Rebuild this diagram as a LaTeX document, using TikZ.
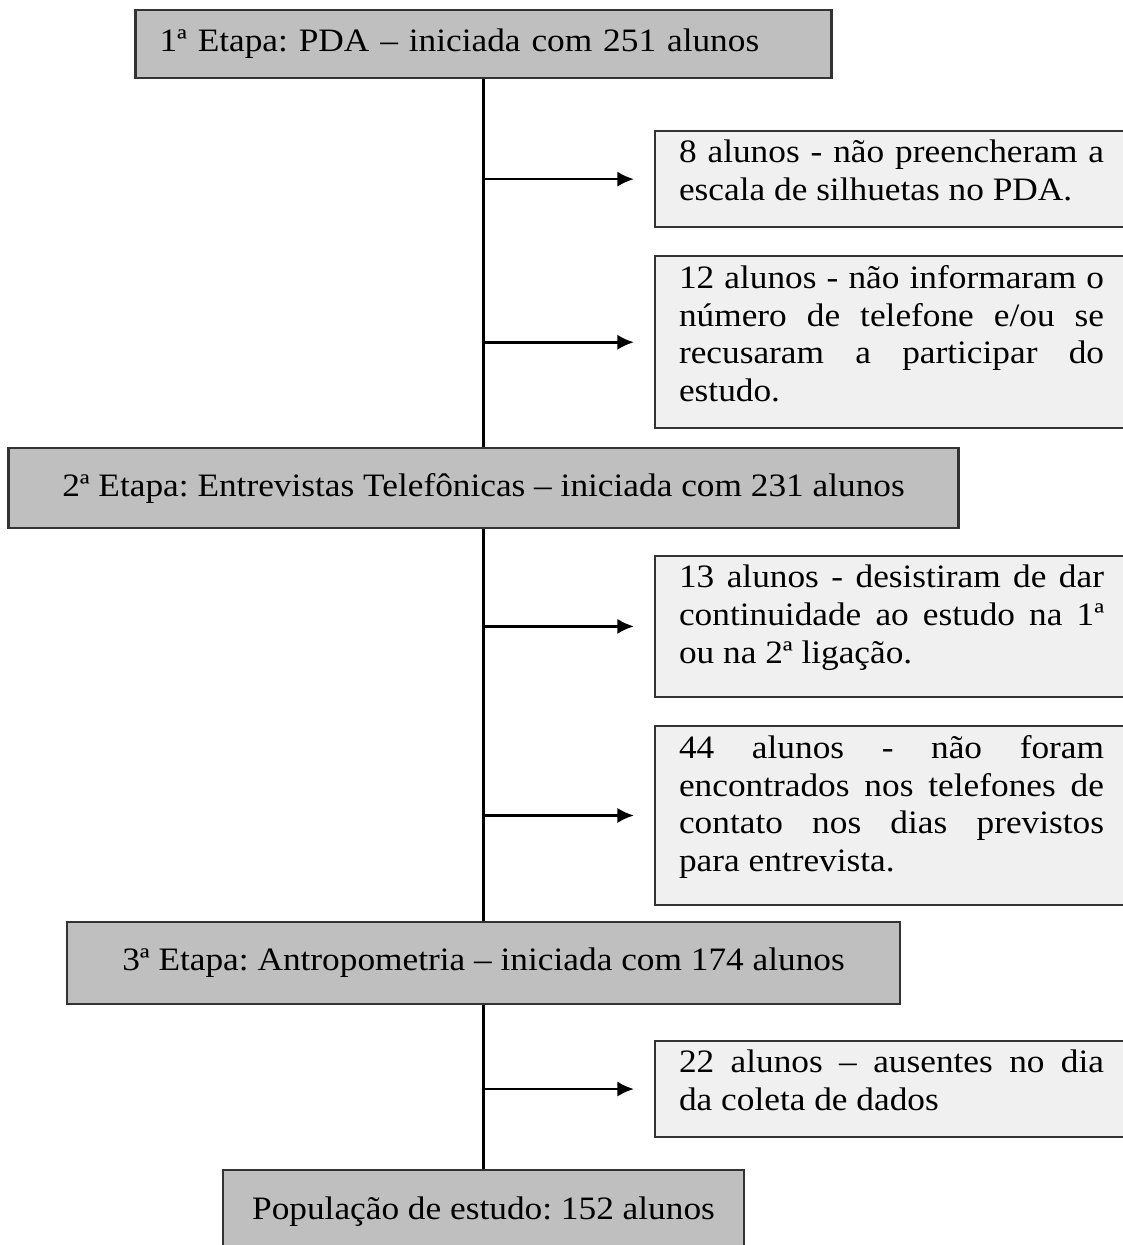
\documentclass[tikz,border=0pt]{standalone}
\usepackage{fontspec}
\setmainfont{Liberation Serif}[FakeStretch=1.08]
\usetikzlibrary{arrows.meta}
\frenchspacing

\tikzset{
    etapa/.style={draw=black!80, line width=0.6pt, fill=gray!50, inner sep=0pt},
    perda/.style={draw=black!80, line width=0.6pt, fill=black!6, anchor=north west,
        text width=42.5mm, inner xsep=2.4mm, inner ysep=0.9mm, align=justify,
        execute at end node={\par\kern1.7mm}},
    tronco/.style={line width=0.9pt},
    seta/.style={->, line width=0.75pt, shorten >=2mm}
}

\begin{document}
\begin{tikzpicture}[x=0.1mm, y=-0.1mm, >={Latex[length=4.7pt,width=4.3pt]},
    font=\fontsize{9.3}{10.8}\selectfont]
    \useasboundingbox (0,0) rectangle (1123,1245);

    % Etapas
    \node[etapa, text width=64.8mm, minimum width=69.6mm, minimum height=6.8mm, align=left]
        (s1) at (483.5,44) {1ª Etapa: PDA – iniciada com 251 alunos};
    \node[etapa, minimum width=95mm, minimum height=8mm]
        (s2) at (483.5,488) {2ª Etapa: Entrevistas Telefônicas – iniciada com 231 alunos};
    \node[etapa, minimum width=83.3mm, minimum height=8.2mm]
        (s3) at (483.5,963) {3ª Etapa: Antropometria – iniciada com 174 alunos};
    \node[etapa, minimum width=52.1mm, minimum height=8.4mm]
        (s4) at (483.5,1212) {População de estudo: 152 alunos};

    % Perdas
    \node[perda] (p1) at (654,130) {8 alunos - não preencheram a\linebreak
        escala de silhuetas no PDA.};
    \node[perda] (p2) at (654,255) {12 alunos - não informaram o\linebreak
        número de telefone e/ou se\linebreak recusaram a participar do\linebreak estudo.};
    \node[perda] (p3) at (654,555) {13 alunos - desistiram de dar\linebreak
        continuidade ao estudo na 1ª\linebreak ou na 2ª ligação.};
    \node[perda] (p4) at (654,725) {44 alunos - não foram\linebreak
        encontrados nos telefones de\linebreak contato nos dias previstos\linebreak
        para entrevista.};
    \node[perda] (p5) at (654,1040) {22 alunos – ausentes no dia\linebreak
        da coleta de dados};

    % Linha principal
    \draw[tronco] (s1.south) -- (s2.north);
    \draw[tronco] (s2.south) -- (s3.north);
    \draw[tronco] (s3.south) -- (s4.north);

    % Setas
    \draw[seta] (s1.south |- p1.west) -- (p1.west);
    \draw[seta] (s1.south |- p2.west) -- (p2.west);
    \draw[seta] (s2.south |- p3.west) -- (p3.west);
    \draw[seta] (s2.south |- p4.west) -- (p4.west);
    \draw[seta] (s3.south |- p5.west) -- (p5.west);
\end{tikzpicture}
\end{document}
